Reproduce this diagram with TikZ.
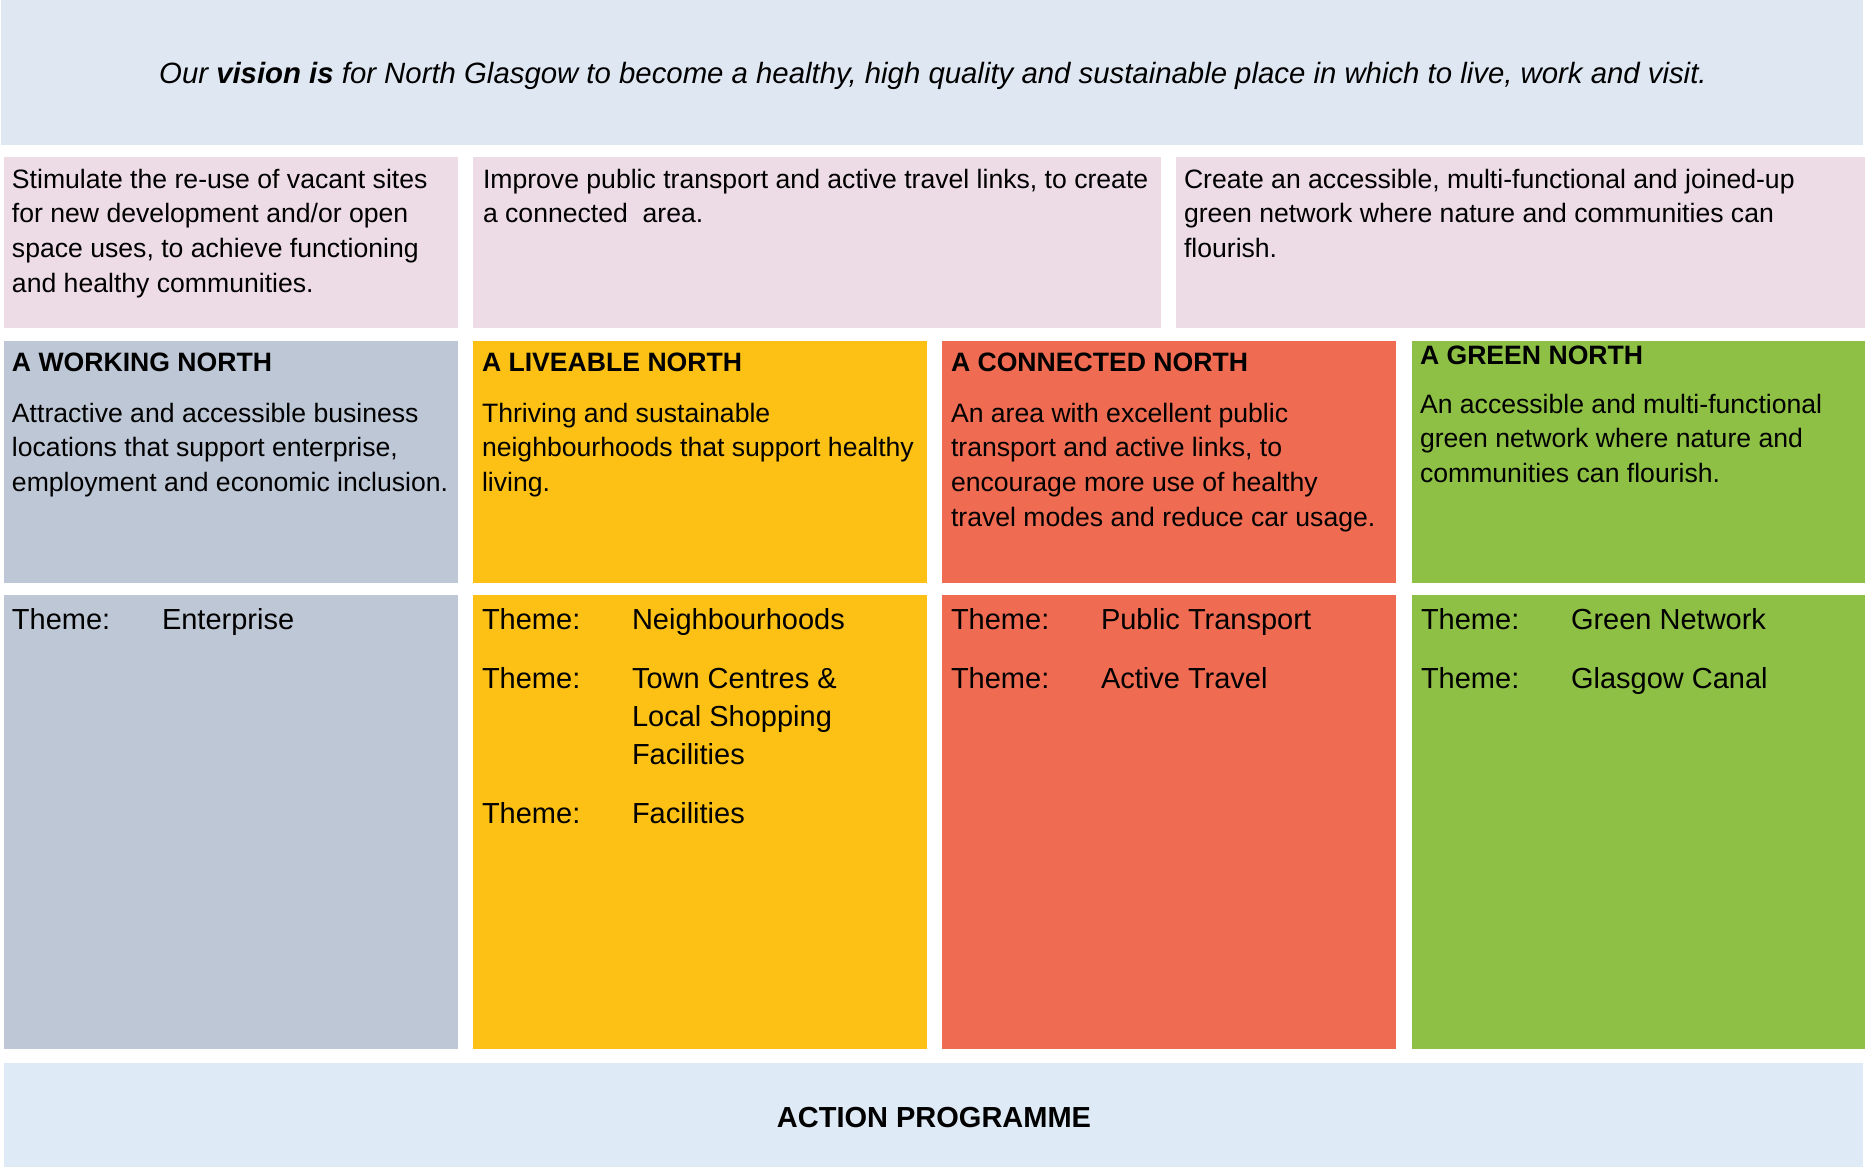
\documentclass[tikz,border=0pt]{standalone}
\usepackage{fontspec}
\setmainfont{Liberation Sans}
\definecolor{visionbg}{HTML}{DFE8F2}
\definecolor{pinkbg}{HTML}{EDDCE5}
\definecolor{workbg}{HTML}{BEC7D6}
\definecolor{livebg}{HTML}{FDC115}
\definecolor{connbg}{HTML}{EF6B51}
\definecolor{greenbg}{HTML}{8DC045}
\definecolor{actionbg}{HTML}{DEEAF5}
\newcommand\bodyf{\fontsize{26.6}{34.9}\selectfont}
\newcommand\themef{\fontsize{29}{38.4}\selectfont}
\newcommand\lines[1]{\parbox[t]{700pt}{\raggedright #1}}
\begin{document}
\begin{tikzpicture}[x=1pt,y=-1pt,
  panel/.style={draw=none,inner sep=0pt,outer sep=0pt,anchor=north west},
  txt/.style={inner sep=0pt,outer sep=0pt,anchor=base west,font=\bodyf},
  head/.style={txt,font=\bodyf\bfseries},
  thm/.style={inner sep=0pt,outer sep=0pt,anchor=base west,font=\themef}]
\useasboundingbox (0,0) rectangle (1865,1168);
% panels
\node[panel,fill=visionbg,minimum width=1862pt,minimum height=145pt] (vision) at (1,0) {};
\node[panel,fill=pinkbg,minimum width=454pt,minimum height=171pt] (aim1) at (4,157) {};
\node[panel,fill=pinkbg,minimum width=688pt,minimum height=171pt] (aim2) at (473,157) {};
\node[panel,fill=pinkbg,minimum width=689pt,minimum height=171pt] (aim3) at (1176,157) {};
\node[panel,fill=workbg,minimum width=454pt,minimum height=242pt] (work) at (4,341) {};
\node[panel,fill=livebg,minimum width=454pt,minimum height=242pt] (live) at (473,341) {};
\node[panel,fill=connbg,minimum width=454pt,minimum height=242pt] (conn) at (942,341) {};
\node[panel,fill=greenbg,minimum width=453pt,minimum height=242pt] (green) at (1412,341) {};
\node[panel,fill=workbg,minimum width=454pt,minimum height=454pt] (workth) at (4,595) {};
\node[panel,fill=livebg,minimum width=454pt,minimum height=454pt] (liveth) at (473,595) {};
\node[panel,fill=connbg,minimum width=454pt,minimum height=454pt] (connth) at (942,595) {};
\node[panel,fill=greenbg,minimum width=453pt,minimum height=454pt] (greenth) at (1412,595) {};
\node[panel,fill=actionbg,minimum width=1859pt,minimum height=104pt] (action) at (4,1063) {};
% vision
\node[inner sep=0pt,anchor=base,font=\fontsize{29.35}{35}\selectfont\itshape] (visiontxt) at (933,83)
  {Our \textbf{vision is} for North Glasgow to become a healthy, high quality and sustainable place in which to live, work and visit.};
% aims
\node[txt] (aim1txt) at (12,188) {\lines{Stimulate the re-use of vacant sites\\for new development and/or open\\space uses, to achieve functioning\\and healthy communities.}};
\node[txt] (aim2txt) at (483,188) {\lines{Improve public transport and active travel links, to create\\a connected\ \ area.}};
\node[txt] (aim3txt) at (1184,188) {\lines{Create an accessible, multi-functional and joined-up\\green network where nature and communities can\\flourish.}};
% headings
\node[head] (workhd) at (12,371) {A WORKING NORTH};
\node[txt] (workds) at (12,422) {\lines{Attractive and accessible business\\locations that support enterprise,\\employment and economic inclusion.}};
\node[head] (livehd) at (482,371) {A LIVEABLE NORTH};
\node[txt] (liveds) at (482,422) {\lines{Thriving and sustainable\\neighbourhoods that support healthy\\living.}};
\node[head] (connhd) at (951,371) {A CONNECTED NORTH};
\node[txt] (connds) at (951,422) {\lines{An area with excellent public\\transport and active links, to\\encourage more use of healthy\\travel modes and reduce car usage.}};
\node[head] (greenhd) at (1420,364) {A GREEN NORTH};
\node[txt] (greends) at (1420,413) {\lines{An accessible and multi-functional\\green network where nature and\\communities can flourish.}};
% themes
\node[thm] (wt1) at (12,629) {Theme:};
\node[thm] (wt1v) at (162,629) {Enterprise};
\node[thm] (lt1) at (482,629) {Theme:};
\node[thm] (lt1v) at (632,629) {Neighbourhoods};
\node[thm] (lt2) at (482,688) {Theme:};
\node[thm] (lt2v) at (632,688) {\lines{Town Centres \&\\Local Shopping\\Facilities}};
\node[thm] (lt3) at (482,823) {Theme:};
\node[thm] (lt3v) at (632,823) {Facilities};
\node[thm] (ct1) at (951,629) {Theme:};
\node[thm] (ct1v) at (1101,629) {Public Transport};
\node[thm] (ct2) at (951,688) {Theme:};
\node[thm] (ct2v) at (1101,688) {Active Travel};
\node[thm] (gt1) at (1421,629) {Theme:};
\node[thm] (gt1v) at (1571,629) {Green Network};
\node[thm] (gt2) at (1421,688) {Theme:};
\node[thm] (gt2v) at (1571,688) {Glasgow Canal};
% action
\node[inner sep=0pt,anchor=base,font=\fontsize{29}{35}\selectfont\bfseries] (actiontxt) at (934,1127) {ACTION PROGRAMME};
\end{tikzpicture}
\end{document}
